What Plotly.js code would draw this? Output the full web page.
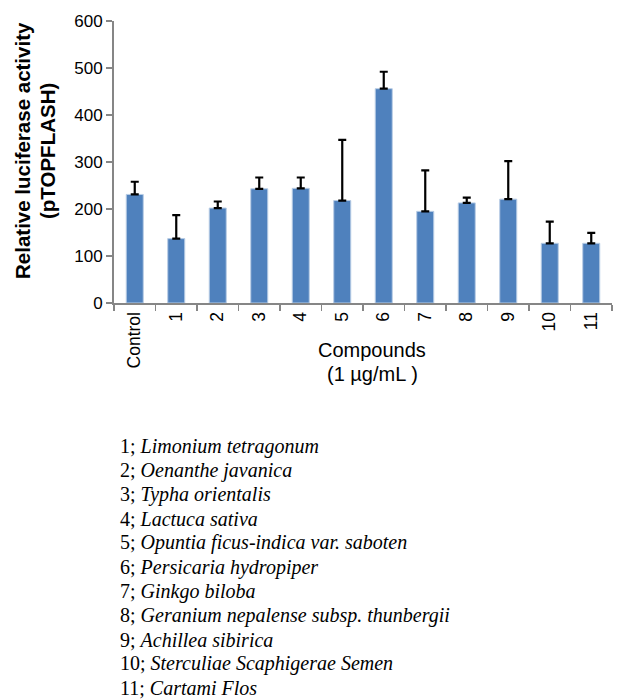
<!DOCTYPE html>
<html>
<head>
<meta charset="utf-8">
<script src="https://cdn.plot.ly/plotly-3.0.1.min.js"></script>
<style>html,body{margin:0;padding:0;background:#fff;}#chart{width:620px;height:699px;}</style>
</head>
<body>
<div id="chart"></div>
<script>
var categories = ["Control","1","2","3","4","5","6","7","8","9","10","11"];
var means = [231, 137, 202, 243, 244, 218, 456, 195, 213, 221, 127, 127];
var errors = [27, 50, 14, 24, 23, 129, 36, 87, 11, 81, 46, 22];
var legendNumbers = ["1","2","3","4","5","6","7","8","9","10","11"];
var legendNames = ["Limonium tetragonum","Oenanthe javanica","Typha orientalis","Lactuca sativa",
  "Opuntia ficus-indica var. saboten","Persicaria hydropiper","Ginkgo biloba",
  "Geranium nepalense subsp. thunbergii","Achillea sibirica","Sterculiae Scaphigerae Semen","Cartami Flos"];
var yTicks = [0,100,200,300,400,500,600];
var yTitleLines = ["Relative luciferase activity","(pTOPFLASH)"];
var xTitleLines = ["Compounds","(1 µg/mL )"];

var W = 620, H = 699;
var M = {l:114, r:8, t:21, b:396};
var pw = W - M.l - M.r, ph = H - M.t - M.b;
function px(x){ return (x - M.l)/pw; }
function py(y){ return (H - M.b - y)/ph; }

var trace = {
  type: 'bar',
  x: categories,
  y: means,
  width: 0.41,
  marker: {color: '#4F81BD', line: {color: '#B9CDE5', width: 1}},
  error_y: {type: 'data', symmetric: false, array: errors, arrayminus: errors.map(function(){return 0;}),
            color: '#000000', thickness: 2.2, width: 4},
  hoverinfo: 'none'
};

var annotations = [];
var yTitleX = [22, 47];
for (var j = 0; j < yTitleLines.length; j++) {
  annotations.push({
    xref:'paper', yref:'paper', x: px(yTitleX[j]), y: py(151), xanchor:'center', yanchor:'middle',
    textangle: -90, showarrow:false,
    text: '<b>' + yTitleLines[j] + '</b>',
    font:{family:'Liberation Sans, Arial, sans-serif', size:20.5, color:'#000'}
  });
}
var xTitleY = [350, 374];
for (var k = 0; k < xTitleLines.length; k++) {
  annotations.push({
    xref:'paper', yref:'paper', x: px(372), y: py(xTitleY[k]), xanchor:'center', yanchor:'middle',
    showarrow:false,
    text: xTitleLines[k],
    font:{family:'Liberation Sans, Arial, sans-serif', size:20, color:'#000'}
  });
}
for (var i = 0; i < legendNames.length; i++) {
  annotations.push({
    xref:'paper', yref:'paper', x: px(118), y: py(446 + i*24.2), xanchor:'left', yanchor:'middle',
    showarrow:false, align:'left',
    text: legendNumbers[i] + '; <i>' + legendNames[i] + '</i>',
    font:{family:'Liberation Serif, Times New Roman, serif', size:20, color:'#000'}
  });
}

var layout = {
  width: W, height: H,
  margin: M,
  paper_bgcolor:'#fff', plot_bgcolor:'#fff',
  showlegend:false,
  font:{family:'Liberation Sans, Arial, sans-serif', size:17, color:'#000'},
  xaxis:{
    type:'category', range:[-0.5, 11.5],
    showline:true, linecolor:'#868686', linewidth:2,
    ticks:'outside', tickson:'boundaries', ticklen:6, tickcolor:'#868686', tickwidth:1.5,
    tickangle:-90, showgrid:false, zeroline:false,
    tickfont:{family:'Liberation Sans, Arial, sans-serif', size:17.5, color:'#000'}
  },
  yaxis:{
    range:[0,600], tickvals: yTicks, ticktext: yTicks.map(String),
    showline:true, linecolor:'#868686', linewidth:2,
    ticks:'outside', ticklen:6, tickcolor:'#868686', tickwidth:1.5,
    showgrid:false, zeroline:false,
    tickfont:{family:'Liberation Sans, Arial, sans-serif', size:17, color:'#000'}
  },
  annotations: annotations
};

Plotly.newPlot('chart', [trace], layout, {staticPlot:true, displayModeBar:false});
</script>
</body>
</html>
